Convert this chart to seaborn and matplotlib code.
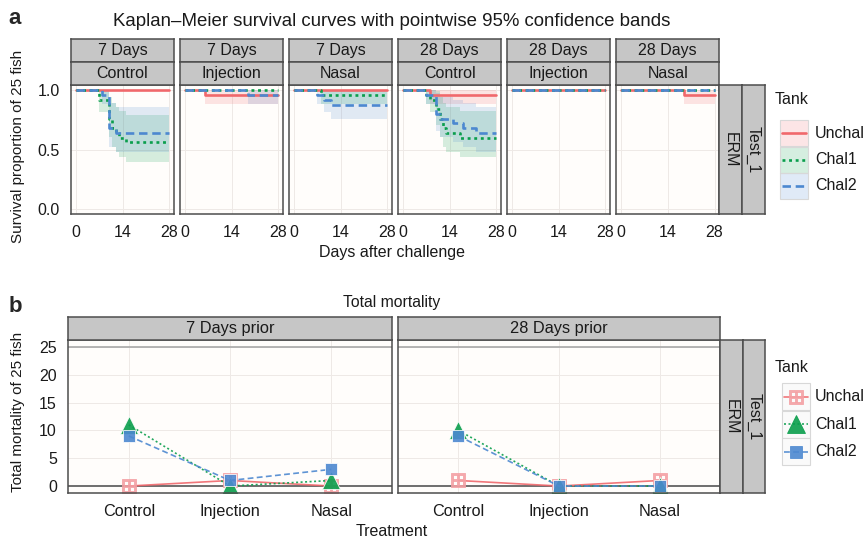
import numpy as np
import pandas as pd
import matplotlib
matplotlib.use("Agg")
import matplotlib.pyplot as plt
import seaborn as sns
from matplotlib.patches import Rectangle
from matplotlib.lines import Line2D

# ---------------- data ----------------
periods = ["7 Days", "28 Days"]
treatments = ["Control", "Injection", "Nasal"]
tanks = ["Unchal", "Chal1", "Chal2"]
n_fish = 25
follow_up = 28
x_ticks_a = [0, 14, 28]
y_ticks_a = [0.0, 0.5, 1.0]
y_ticks_b = [0, 5, 10, 15, 20, 25]
periods_b = ["7 Days prior", "28 Days prior"]

# days of death per tank
d7_control_unchal = []
d7_control_chal1 = [7, 7, 10, 10, 10, 10, 11, 11, 12, 13, 15]
d7_control_chal2 = [8, 10, 10, 10, 10, 10, 10, 10, 12]
d7_injection_unchal = [6]
d7_injection_chal1 = []
d7_injection_chal2 = [19]
d7_nasal_unchal = []
d7_nasal_chal1 = [8]
d7_nasal_chal2 = [7, 9, 11]
d28_control_unchal = [8]
d28_control_chal1 = [7, 8, 10, 10, 11, 11, 12, 12, 13, 17]
d28_control_chal2 = [7, 10, 10, 10, 10, 11, 15, 18, 22]
d28_injection_unchal = []
d28_injection_chal1 = []
d28_injection_chal2 = []
d28_nasal_unchal = [19]
d28_nasal_chal1 = []
d28_nasal_chal2 = []

# total mortality (panel b), order Control, Injection, Nasal
mort_7_unchal = [0, 1, 0]
mort_7_chal1 = [11, 0, 1]
mort_7_chal2 = [9, 1, 3]
mort_28_unchal = [1, 0, 1]
mort_28_chal1 = [10, 0, 0]
mort_28_chal2 = [9, 0, 0]

deaths = {
    ("7 Days", "Control"): [d7_control_unchal, d7_control_chal1, d7_control_chal2],
    ("7 Days", "Injection"): [d7_injection_unchal, d7_injection_chal1, d7_injection_chal2],
    ("7 Days", "Nasal"): [d7_nasal_unchal, d7_nasal_chal1, d7_nasal_chal2],
    ("28 Days", "Control"): [d28_control_unchal, d28_control_chal1, d28_control_chal2],
    ("28 Days", "Injection"): [d28_injection_unchal, d28_injection_chal1, d28_injection_chal2],
    ("28 Days", "Nasal"): [d28_nasal_unchal, d28_nasal_chal1, d28_nasal_chal2],
}
mortality = {
    "7 Days prior": [mort_7_unchal, mort_7_chal1, mort_7_chal2],
    "28 Days prior": [mort_28_unchal, mort_28_chal1, mort_28_chal2],
}

# ---------------- style ----------------
sns.set_theme(style="white")
plt.rcParams["font.family"] = ["Liberation Sans", "DejaVu Sans"]

colors = {"Unchal": "#F0686C", "Chal1": "#0A9E4C", "Chal2": "#4C88D0"}
unchal_marker_c = "#F4A0A4"
dash_a = {"Unchal": "", "Chal1": (1.1, 1.4), "Chal2": (3.2, 1.8)}
dash_b = {"Unchal": "", "Chal1": (1.2, 1.5), "Chal2": (3.5, 2.0)}
markers_b = {"Unchal": "$\\boxplus$", "Chal1": "^", "Chal2": "s"}
msize_b = {"Unchal": 10, "Chal1": 12.5, "Chal2": 8.5}
zorder_b = {"Unchal": 2.0, "Chal1": 2.1, "Chal2": 2.2}
strip_fc = "#C6C6C6"
strip_ec = "#4D4D4D"
panel_fc = "#FFFDFB"
grid_c = "#EEE9E6"
txt_c = "#1A1A1A"
W, H = 865, 540

fig = plt.figure(figsize=(W / 100, H / 100), dpi=100)
fig.patch.set_facecolor("white")


def px_axes(x0, y0, x1, y1, **kw):
    return fig.add_axes([x0 / W, 1 - y1 / H, (x1 - x0) / W, (y1 - y0) / H], **kw)


def ftext(x, y, s, **kw):
    fig.text(x / W, 1 - y / H, s, **kw)


def strip(x0, y0, x1, y1, label, rot=0, size=11.5):
    a = px_axes(x0, y0, x1, y1)
    a.set_xticks([]); a.set_yticks([])
    a.set_facecolor(strip_fc)
    for sp in a.spines.values():
        sp.set_color(strip_ec); sp.set_linewidth(1.1); sp.set_visible(True)
    a.text(0.5, 0.5, label, ha="center", va="center", rotation=rot,
           fontsize=size, color=txt_c, transform=a.transAxes)
    return a


def style_panel(ax):
    ax.set_facecolor(panel_fc)
    for sp in ax.spines.values():
        sp.set_color(strip_ec); sp.set_linewidth(1.1); sp.set_visible(True)
    ax.tick_params(axis="both", which="both", direction="out", length=5, width=1.2,
                   color="#333333", labelcolor=txt_c, pad=3)
    ax.grid(True, color=grid_c, lw=0.7)
    ax.set_xlabel(""); ax.set_ylabel("")


def km(dlist):
    t, s, lo, hi = [0.0], [1.0], [1.0], [1.0]
    n, S, v = n_fish, 1.0, 0.0
    for day in sorted(set(dlist)):
        d = dlist.count(day)
        S *= (n - d) / n
        v += d / (n * (n - d))
        n -= d
        se = np.sqrt(v)
        t.append(day); s.append(S)
        lo.append(S * np.exp(-1.96 * se)); hi.append(min(1.0, S * np.exp(1.96 * se)))
    t.append(follow_up); s.append(S); lo.append(lo[-1]); hi.append(hi[-1])
    return np.array(t), np.array(s), np.array(lo), np.array(hi)


# ---------------- panel a ----------------
top_a, bot_a = 85, 214
x_start, gap = 71, 6.0
pw = (719.2 - x_start - 5 * gap) / 6
combos = [(p, t) for p in periods for t in treatments]
for i, (per, trt) in enumerate(combos):
    x0 = x_start + i * (pw + gap)
    ax = px_axes(x0, top_a, x0 + pw, bot_a)
    rows = []
    for k, tank in enumerate(tanks):
        t, s, lo, hi = km(deaths[(per, trt)][k])
        ax.fill_between(t, lo, hi, step="post", color=colors[tank], alpha=0.17, lw=0)
        for tt, ss in zip(t, s):
            rows.append({"Day": tt, "Survival": ss, "Tank": tank})
    df = pd.DataFrame(rows)
    sns.lineplot(data=df, x="Day", y="Survival", hue="Tank", style="Tank",
                 hue_order=tanks, style_order=tanks, palette=colors, dashes=dash_a,
                 estimator=None, sort=False, drawstyle="steps-post", lw=1.9,
                 legend=False, ax=ax)
    style_panel(ax)
    ax.set_xlim(-1.4, 29.4)
    ax.set_ylim(-0.045, 1.045)
    ax.set_xticks(x_ticks_a)
    ax.set_xticklabels([str(v) for v in x_ticks_a], fontsize=11.5)
    ax.set_yticks(y_ticks_a)
    if i == 0:
        ax.set_yticklabels([f"{v:.1f}" for v in y_ticks_a], fontsize=11.5)
    else:
        ax.tick_params(axis="y", length=0)
        ax.set_yticklabels([])
    strip(x0, 39, x0 + pw, 62, per)
    strip(x0, 62, x0 + pw, 85, trt)

strip(719.2, top_a, 742, bot_a, "ERM", rot=270)
strip(742, top_a, 765, bot_a, "Test_1", rot=270)

ftext(392, 21, "Kaplan\u2013Meier survival curves with pointwise 95% confidence bands",
      ha="center", va="center", fontsize=13.4, color=txt_c)
ftext(15, 18, "a", ha="center", va="center", fontsize=16, fontweight="bold")
ftext(18, 146, "Survival proportion of 25 fish", ha="center", va="center",
      rotation=90, fontsize=11, color=txt_c)
ftext(392, 253, "Days after challenge", ha="center", va="center", fontsize=11.5,
      color=txt_c)

# legend a
lax = px_axes(770, 85, 860, 215)
lax.set_xlim(770, 860); lax.set_ylim(215, 85); lax.axis("off")
lax.text(775, 100, "Tank", ha="left", va="center", fontsize=11.5, color=txt_c)
for k, tank in enumerate(tanks):
    yc = 133 + k * 26.5
    lax.add_patch(Rectangle((780, yc - 13), 28, 26, facecolor=colors[tank], alpha=0.17,
                            edgecolor="none"))
    lax.add_patch(Rectangle((780, yc - 13), 28, 26, facecolor="none", edgecolor="#D8D8D8", lw=0.8))
    ln = Line2D([782, 806], [yc, yc], color=colors[tank], lw=1.9)
    if dash_a[tank]:
        ln.set_dashes(dash_a[tank])
    lax.add_line(ln)
    lax.text(815, yc, tank, ha="left", va="center", fontsize=11.5, color=txt_c)

# ---------------- panel b ----------------
top_b, bot_b = 340, 493
bx = [(68, 392), (398, 720)]
for j, per in enumerate(periods_b):
    x0, x1 = bx[j]
    ax = px_axes(x0, top_b, x1, bot_b)
    rows = []
    for k, tank in enumerate(tanks):
        for trt, m in zip(treatments, mortality[per][k]):
            rows.append({"Treatment": trt, "Mortality": m, "Tank": tank})
    df = pd.DataFrame(rows)
    ax.axhline(25, color="#A8A8A8", lw=1.2, zorder=1)
    ax.axhline(0, color="#6E6E6E", lw=1.4, zorder=1)
    n_before = len(ax.lines)
    sns.lineplot(data=df, x="Treatment", y="Mortality", hue="Tank", style="Tank",
                 hue_order=tanks, style_order=tanks, palette=colors, dashes=dash_b,
                 markers=markers_b, markersize=10, markeredgewidth=0.6, alpha=0.9,
                 estimator=None, sort=False, lw=1.2, legend=False, ax=ax)
    for tank, line in zip(tanks, ax.lines[n_before:]):
        line.set_markersize(msize_b[tank])
        line.set_zorder(zorder_b[tank])
        if tank == "Unchal":
            line.set_markerfacecolor(unchal_marker_c)
            line.set_markeredgecolor(unchal_marker_c)
    style_panel(ax)
    ax.set_xlim(-0.6, 2.6)
    ax.set_ylim(-1.25, 26.25)
    ax.set_xticks(range(len(treatments)))
    ax.set_xticklabels(treatments, fontsize=11.7)
    ax.set_yticks(y_ticks_b)
    if j == 0:
        ax.set_yticklabels([str(v) for v in y_ticks_b], fontsize=11.5)
    else:
        ax.tick_params(axis="y", length=0)
        ax.set_yticklabels([])
    strip(x0, 317, x1, 340, per, size=11.8)

strip(720, top_b, 743, bot_b, "ERM", rot=270)
strip(743, top_b, 765, bot_b, "Test_1", rot=270)

ftext(392, 303, "Total mortality", ha="center", va="center", fontsize=11.3, color=txt_c)
ftext(15, 306, "b", ha="center", va="center", fontsize=16, fontweight="bold")
ftext(18, 412, "Total mortality of 25 fish", ha="center", va="center",
      rotation=90, fontsize=11, color=txt_c)
ftext(392, 532, "Treatment", ha="center", va="center", fontsize=11.5, color=txt_c)

# legend b
lbx = px_axes(770, 350, 860, 480)
lbx.set_xlim(770, 860); lbx.set_ylim(480, 350); lbx.axis("off")
lbx.text(775, 368, "Tank", ha="left", va="center", fontsize=11.5, color=txt_c)
for k, tank in enumerate(tanks):
    yc = 397 + k * 27.5
    lbx.add_patch(Rectangle((782, yc - 13.5), 28, 27, facecolor="#FAFAFA",
                            edgecolor="#D8D8D8", lw=0.8))
    ln = Line2D([784, 796, 808], [yc, yc, yc], color=colors[tank], lw=1.2,
                marker=markers_b[tank], markersize=msize_b[tank], markevery=[1],
                alpha=0.9, markeredgewidth=0.6)
    if tank == "Unchal":
        ln.set_markerfacecolor(unchal_marker_c)
        ln.set_markeredgecolor(unchal_marker_c)
    if dash_b[tank]:
        ln.set_dashes(dash_b[tank])
    lbx.add_line(ln)
    lbx.text(815, yc, tank, ha="left", va="center", fontsize=11.5, color=txt_c)

fig.savefig("out.png", dpi=100, facecolor="white")
